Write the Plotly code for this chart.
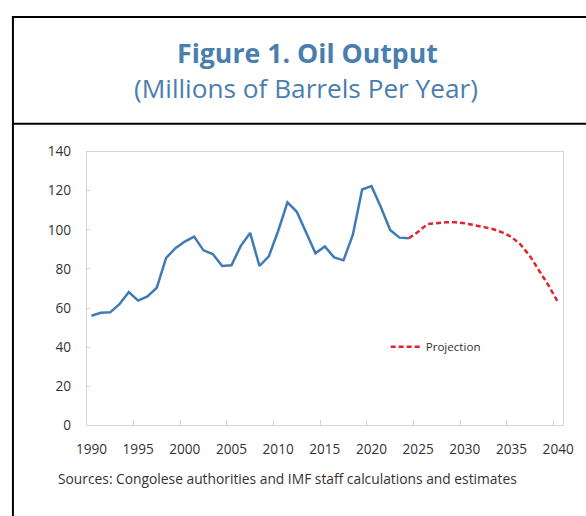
import plotly.graph_objects as go

# ---- data ----
hist_years = list(range(1990, 2025))
hist_values = [56.1, 57.6, 57.8, 62.0, 68.2, 63.8, 65.9, 70.4, 85.6, 90.6,
               94.0, 96.5, 89.5, 87.6, 81.5, 81.9, 91.8, 98.4, 81.5, 86.4,
               99.4, 114.0, 109.2, 99.0, 88.0, 91.5, 85.9, 84.4, 97.4, 120.6,
               122.3, 111.7, 99.9, 96.0, 95.7]
proj_years = list(range(2024, 2041))
proj_values = [95.7, 99.0, 102.9, 103.4, 103.8, 103.8, 103.3, 102.4, 101.2,
               100.4, 98.7, 96.4, 92.3, 86.4, 78.8, 71.3, 62.8]
x_tick_labels = [str(y) for y in range(1990, 2041, 5)]
y_ticks = [0, 20, 40, 60, 80, 100, 120, 140]

title_text = "Figure 1. Oil Output"
subtitle_text = "(Millions of Barrels Per Year)"
source_text = "Sources: Congolese authorities and IMF staff calculations and estimates"
legend_name = "Projection"

W, H = 586, 516
FONT = "Open Sans"
TITLE_BLUE = "#4A7EAE"
LINE_BLUE = "#3F7BB6"
RED = "#E3232B"
GRID = "#D4D4D4"
TXT = "#333333"

# layout helpers: target positions are given in picture pixels
SX, OX = 0.9644, 10.06
SY, OY = 0.967, 7.9

def px(x):
    return ((x - OX) / SX) / W

def py(y):
    return 1 - ((y - OY) / SY) / H

fig = go.Figure()
fig.add_trace(go.Scatter(x=hist_years, y=hist_values, mode="lines",
                         line=dict(color=LINE_BLUE, width=2.5),
                         showlegend=False, hoverinfo="x+y"))
fig.add_trace(go.Scatter(x=proj_years, y=proj_values, mode="lines",
                         name=legend_name,
                         line=dict(color=RED, width=2.5, dash="5px,3px")))
# helper trace to host the between-category tick axis
fig.add_trace(go.Scatter(x=[], y=[], xaxis="x2", showlegend=False,
                         hoverinfo="skip"))

x0, x1 = 86, 563
y0, y1 = 150, 425
xr = [hist_years[0] - 0.5, proj_years[-1] + 0.5]

fig.update_layout(
    width=W, height=H,
    margin=dict(l=0, r=0, t=0, b=0),
    paper_bgcolor="white", plot_bgcolor="white",
    font=dict(family=FONT, color=TXT, size=13),
    xaxis=dict(domain=[px(x0), px(x1)], range=xr,
               tickvals=[int(t) for t in x_tick_labels], ticktext=x_tick_labels,
               ticks="", showgrid=False, zeroline=False,
               showline=True, linecolor=GRID, linewidth=1, mirror=True,
               ticklabelstandoff=11,
               tickfont=dict(size=13.6, color=TXT, family=FONT)),
    xaxis2=dict(overlaying="x", anchor="y", domain=[px(x0), px(x1)], range=xr,
                tickvals=[t - 0.5 for t in range(1995, 2041, 5)],
                ticks="inside", ticklen=5, tickcolor=GRID, tickwidth=1,
                showticklabels=False, showgrid=False, zeroline=False,
                showline=False),
    yaxis=dict(domain=[py(y1), py(y0)], range=[0, 140], tickvals=y_ticks,
               ticks="inside", ticklen=3, tickcolor=GRID,
               showgrid=False, zeroline=False,
               showline=True, linecolor=GRID, linewidth=1, mirror=True,
               ticklabelstandoff=12,
               tickfont=dict(size=13.6, color=TXT, family=FONT)),
    legend=dict(x=px(426) - 42 / W, y=py(346), xanchor="left", yanchor="middle",
                bgcolor="rgba(0,0,0,0)", font=dict(size=11.6, color=TXT),
                itemwidth=30),
    shapes=[
        dict(type="line", xref="paper", yref="paper", x0=px(11), x1=px(640),
             y0=py(15), y1=py(15), line=dict(color="black", width=2)),
        dict(type="line", xref="paper", yref="paper", x0=px(12), x1=px(12),
             y0=py(14), y1=py(560), line=dict(color="black", width=2)),
        dict(type="line", xref="paper", yref="paper", x0=px(11), x1=px(640),
             y0=py(122), y1=py(122), line=dict(color="black", width=2)),
    ],
    annotations=[
        dict(text="<b>" + title_text + "</b>", xref="paper", yref="paper",
             x=px(306.7), y=py(50.5), xanchor="center", yanchor="middle",
             showarrow=False, font=dict(size=26.7, color=TITLE_BLUE, family=FONT)),
        dict(text=subtitle_text, xref="paper", yref="paper",
             x=px(306), y=py(86.5), xanchor="center", yanchor="middle",
             showarrow=False, font=dict(size=26.2, color=TITLE_BLUE, family=FONT)),
        dict(text=source_text, xref="paper", yref="paper",
             x=px(57.3) - 2 / W, y=py(478), xanchor="left", yanchor="middle",
             showarrow=False, font=dict(size=13.8, color=TXT, family=FONT)),
    ],
)

fig.write_html("out.html", config={"displayModeBar": False},
               post_script="document.body.style.margin='0';")
